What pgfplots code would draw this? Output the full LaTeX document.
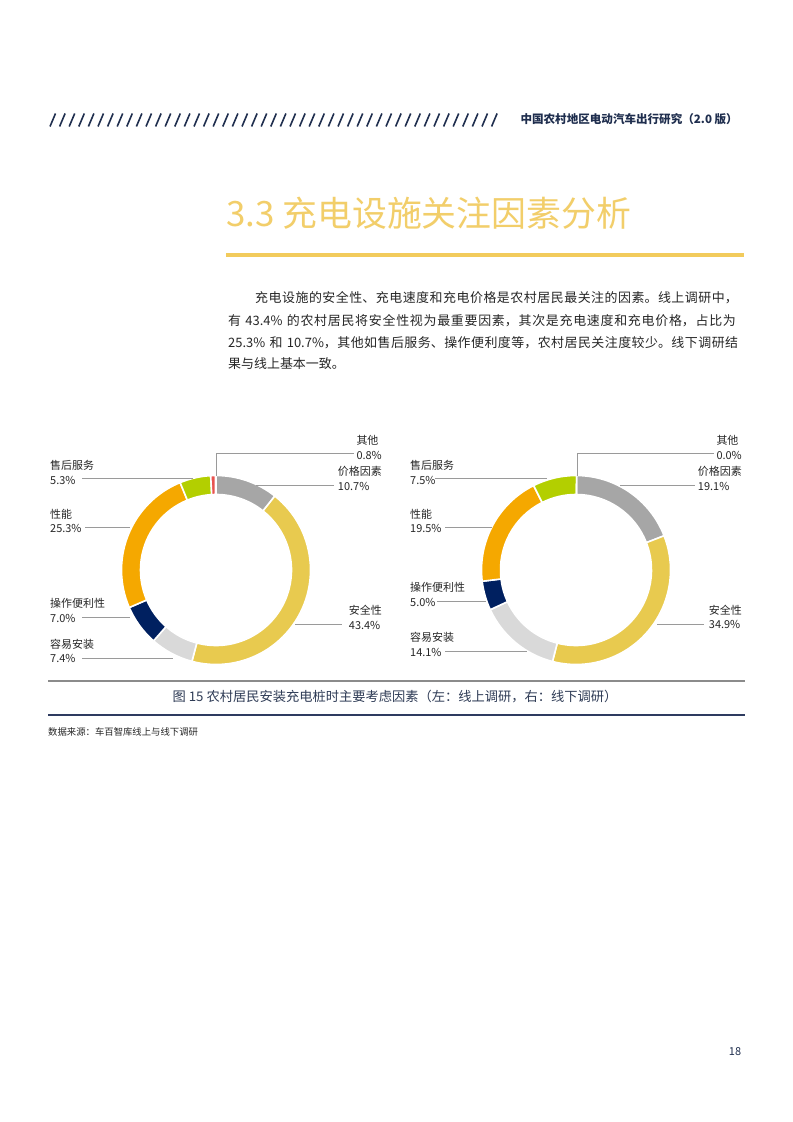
\documentclass[border=0pt]{standalone}
\usepackage{fontspec}
\usepackage{pgfplots}
\usepackage{pgfplotstable}
\pgfplotsset{compat=1.18}
\setmainfont{Noto Sans CJK SC}
\XeTeXlinebreaklocale "zh"
\XeTeXlinebreakskip=0pt plus 3pt
\definecolor{cgray}{HTML}{A6A6A6}
\definecolor{cyellow}{HTML}{E8CA4F}
\definecolor{clgray}{HTML}{D9D9D9}
\definecolor{cnavy}{HTML}{002060}
\definecolor{corange}{HTML}{F5A800}
\definecolor{cgreen}{HTML}{B3CF00}
\definecolor{cred}{HTML}{E8534F}
\definecolor{hdnavy}{HTML}{1F2E4E}
\definecolor{titlegold}{HTML}{F2CE6A}
\definecolor{rulegold}{HTML}{F2CB5C}
\definecolor{leader}{HTML}{9A9A9A}
\definecolor{txt}{HTML}{262626}
\definecolor{captxt}{HTML}{2E3B55}
\definecolor{caprule}{HTML}{2E3B60}

% clockwise from the top
\pgfplotstableread{
value color
10.7 cgray
43.4 cyellow
7.4 clgray
7.0 cnavy
25.3 corange
5.3 cgreen
0.8 cred
}\leftdata
\pgfplotstableread{
value color
19.1 cgray
34.9 cyellow
14.1 clgray
5.0 cnavy
19.5 corange
7.5 cgreen
0.0 cred
}\rightdata

\newcommand\donut[1]{%
  \gdef\cum{0}%
  \pgfplotstablegetrowsof{#1}\pgfmathtruncatemacro\nlast{\pgfplotsretval-1}%
  \foreach \i in {0,...,\nlast}{%
    \pgfplotstablegetelem{\i}{value}\of{#1}\let\val\pgfplotsretval
    \pgfplotstablegetelem{\i}{color}\of{#1}\let\col\pgfplotsretval
    \pgfmathsetmacro\aa{90-3.6*\cum}%
    \pgfmathsetmacro\ab{90-3.6*(\cum+\val)}%
    \fill[fill=\col, draw=white, line width=1.6bp]
      (axis cs:{94.5*cos(\aa)},{94.5*sin(\aa)})
      arc[start angle=\aa, end angle=\ab, radius=94.5bp]
      -- (axis cs:{75.5*cos(\ab)},{75.5*sin(\ab)})
      arc[start angle=\ab, end angle=\aa, radius=75.5bp] -- cycle;
    \pgfmathsetmacro\nc{\cum+\val}\global\let\cum\nc
  }}

\newcommand\lab{\fontsize{11}{14.5}\selectfont}
\newcommand\para{\fontsize{13}{20}\selectfont}
\newcommand\jline[1]{{\parfillskip=0pt\tolerance=10000 #1\par}}

\begin{document}
\begin{tikzpicture}[x=1bp,y=1bp]
\fill[white] (0,0) rectangle (793,1122);

\begin{axis}[at={(216,552)}, anchor=center, x=1bp, y=1bp,
  xmin=-100, xmax=100, ymin=-100, ymax=100, hide axis, clip=false]
  \pgfplotsextra{\donut{\leftdata}}
\end{axis}
\begin{axis}[at={(576,552)}, anchor=center, x=1bp, y=1bp,
  xmin=-100, xmax=100, ymin=-100, ymax=100, hide axis, clip=false]
  \pgfplotsextra{\donut{\rightdata}}
\end{axis}

\begin{scope}[shift={(0,1122)}, y=-1bp]
  % header
  \foreach \i in {0,...,46} \draw[hdnavy, line width=1.6bp] ({50+\i*9.6},126.5) -- ({55.5+\i*9.6},113.5);
  \node[anchor=east, inner sep=0, text=hdnavy, font=\fontsize{11.6}{13}\selectfont\bfseries] at (738,119) {中国农村地区电动汽车出行研究（2.0 版）};
  % section title
  \node[anchor=west, inner sep=0, text=titlegold, font=\fontsize{35}{40}\selectfont] at (226,213) {3.3 充电设施关注因素分析};
  \fill[rulegold] (226,253) rectangle (744,257);
  % paragraph
  \node[anchor=west, inner sep=0, text width=487bp, text=txt, font=\para] at (255,298) {\jline{充电设施的安全性、充电速度和充电价格是农村居民最关注的因素。线上调研中，}};
  \node[anchor=west, inner sep=0, text width=514bp, text=txt, font=\para] at (228,320.5) {\jline{有 43.4\% 的农村居民将安全性视为最重要因素，其次是充电速度和充电价格，占比为}};
  \node[anchor=west, inner sep=0, text width=514bp, text=txt, font=\para] at (228,342.5) {\jline{25.3\% 和 10.7\%，其他如售后服务、操作便利度等，农村居民关注度较少。线下调研结}};
  \node[anchor=west, inner sep=0, text=txt, font=\para] at (228,363.5) {果与线上基本一致。};

  % left donut labels
  \draw[leader, line width=1bp] (216,476) -- (216,454) -- (354,454);
  \draw[leader, line width=1bp] (256,485.5) -- (334,485.5);
  \draw[leader, line width=1bp] (295,624.5) -- (342,624.5);
  \draw[leader, line width=1bp] (82,479) -- (193,479);
  \draw[leader, line width=1bp] (85,528) -- (130,528);
  \draw[leader, line width=1bp] (82,618) -- (130,618);
  \draw[leader, line width=1bp] (82,658.5) -- (173,658.5);
  \node[anchor=east, align=left, inner sep=0, text=txt, font=\lab] at (382,447.5) {其他\\0.8\%};
  \node[anchor=east, align=left, inner sep=0, text=txt, font=\lab] at (382,478.5) {价格因素\\10.7\%};
  \node[anchor=east, align=left, inner sep=0, text=txt, font=\lab] at (382,617.5) {安全性\\43.4\%};
  \node[anchor=west, align=left, inner sep=0, text=txt, font=\lab] at (50,472.5) {售后服务\\5.3\%};
  \node[anchor=west, align=left, inner sep=0, text=txt, font=\lab] at (50,521) {性能\\25.3\%};
  \node[anchor=west, align=left, inner sep=0, text=txt, font=\lab] at (50,610.5) {操作便利性\\7.0\%};
  \node[anchor=west, align=left, inner sep=0, text=txt, font=\lab] at (50,651) {容易安装\\7.4\%};

  % right donut labels
  \draw[leader, line width=1bp] (577,476) -- (577,454) -- (714,454);
  \draw[leader, line width=1bp] (620,485.5) -- (695,485.5);
  \draw[leader, line width=1bp] (657,624.5) -- (704,624.5);
  \draw[leader, line width=1bp] (435,479) -- (547,479);
  \draw[leader, line width=1bp] (445,528) -- (492,528);
  \draw[leader, line width=1bp] (437,602) -- (486,602);
  \draw[leader, line width=1bp] (445,652) -- (527,652);
  \node[anchor=east, align=left, inner sep=0, text=txt, font=\lab] at (742,447.5) {其他\\0.0\%};
  \node[anchor=east, align=left, inner sep=0, text=txt, font=\lab] at (742,478.5) {价格因素\\19.1\%};
  \node[anchor=east, align=left, inner sep=0, text=txt, font=\lab] at (742,617) {安全性\\34.9\%};
  \node[anchor=west, align=left, inner sep=0, text=txt, font=\lab] at (410,472.5) {售后服务\\7.5\%};
  \node[anchor=west, align=left, inner sep=0, text=txt, font=\lab] at (410,521) {性能\\19.5\%};
  \node[anchor=west, align=left, inner sep=0, text=txt, font=\lab] at (410,594.5) {操作便利性\\5.0\%};
  \node[anchor=west, align=left, inner sep=0, text=txt, font=\lab] at (410,644.5) {容易安装\\14.1\%};

  % caption
  \draw[leader!90!black, line width=1.6bp] (48,681) -- (745,681);
  \node[inner sep=0, text=captxt, font=\fontsize{13.3}{15}\selectfont] at (395,697) {图 15 农村居民安装充电桩时主要考虑因素（左：线上调研，右：线下调研）};
  \draw[caprule, line width=1.2bp] (48,715) -- (745,715);
  \node[anchor=west, inner sep=0, text=txt, font=\fontsize{9.4}{11}\selectfont] at (48,732) {数据来源：车百智库线上与线下调研};
  % page number
  \node[inner sep=0, text=hdnavy, font=\fontsize{11}{13}\selectfont] at (735,1052) {18};
\end{scope}
\end{tikzpicture}
\end{document}
